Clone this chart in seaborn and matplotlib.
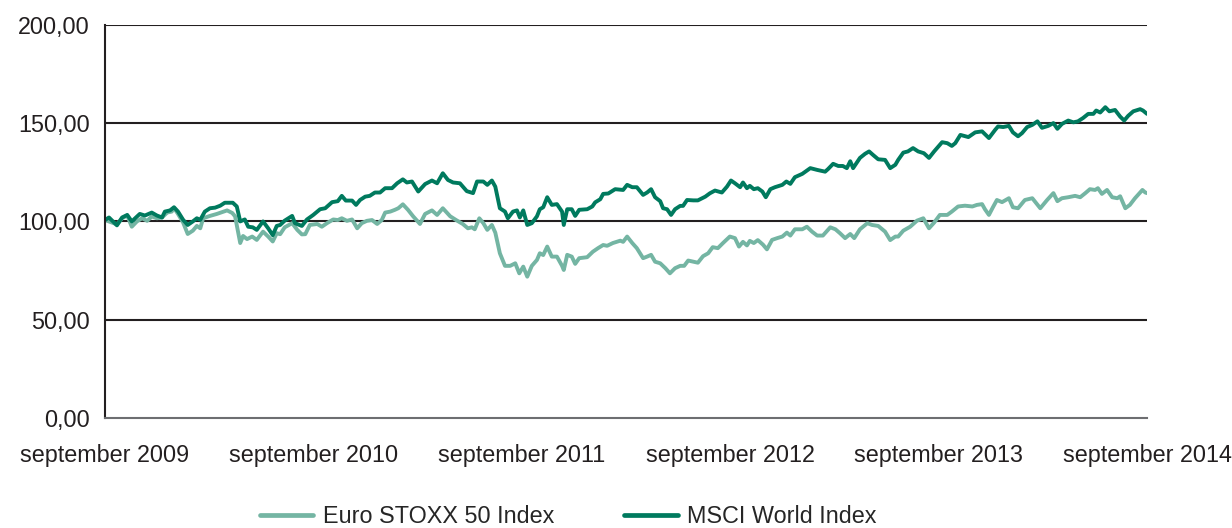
import pandas as pd
import numpy as np
import matplotlib
matplotlib.use('Agg')
import matplotlib.pyplot as plt
import matplotlib.ticker as mticker
import seaborn as sns

# days since 1 september 2009
msci_days = [0, 7, 21, 30, 39, 47, 61, 70, 82, 91, 100, 105, 114, 121, 128, 137, 145, 154, 161, 167,
             175, 184, 193, 202, 210, 224, 231, 237, 245, 251, 259, 266, 277, 286, 294, 301, 307, 315, 328, 333,
             345, 354, 365, 377, 386, 398, 408, 415, 422, 433, 440, 447, 456, 464, 473, 482, 491, 503, 512, 522,
             529, 538, 549, 561, 573, 582, 592, 601, 610, 622, 634, 645, 652, 663, 670, 678, 684, 692, 701, 706,
             715, 722, 727, 733, 740, 748, 757, 762, 768, 775, 783, 792, 801, 804, 810, 818, 824, 831, 845, 854,
             859, 868, 873, 882, 894, 908, 915, 924, 932, 943, 950, 957, 964, 973, 978, 985, 992, 999, 1008, 1013,
             1020, 1031, 1039, 1052, 1060, 1069, 1081, 1090, 1097, 1104, 1113, 1118, 1125, 1130, 1137, 1144, 1152, 1158, 1166, 1174,
             1187, 1194, 1201, 1209, 1222, 1236, 1248, 1262, 1267, 1276, 1285, 1293, 1300, 1306, 1311, 1323, 1332, 1339, 1346, 1355,
             1367, 1376, 1385, 1390, 1399, 1407, 1416, 1425, 1435, 1444, 1453, 1467, 1476, 1484, 1490, 1499, 1513, 1525, 1537, 1549,
             1560, 1565, 1574, 1584, 1591, 1600, 1607, 1616, 1625, 1634, 1642, 1653, 1662, 1669, 1677, 1688, 1697, 1705, 1714, 1723,
             1732, 1737, 1744, 1753, 1760, 1770, 1779, 1786, 1793, 1802, 1814, 1819, 1826]
msci_values = [100.7, 102, 98, 102, 103.3, 100, 103.8, 103, 104.5, 103, 102, 105, 105.6, 107.2, 105, 100.8, 98.2, 100, 101.6, 100.8,
               105, 106.7, 107, 108, 109.5, 109.5, 107.6, 100, 101, 97.3, 97, 95.7, 100, 96.5, 93, 97.7, 98.2, 100.4, 102.8, 99.1,
               97.7, 101, 103.3, 106.2, 106.7, 109.8, 110.3, 113, 110.6, 110.6, 108.4, 110.9, 112.6, 113, 114.7, 114.7, 116.9, 116.9, 119.4, 121.4,
               119.8, 120.3, 115.2, 119, 120.8, 119.4, 124.5, 121.1, 119.8, 119.4, 115.4, 114.4, 120.3, 120.3, 118.6, 120.8, 117.7, 106.7, 105, 101.6,
               105, 105.6, 102, 105.6, 98.2, 99.1, 102.6, 106.2, 107.2, 112.3, 108.4, 108.8, 105, 98.2, 106.2, 106.2, 102.8, 105.9, 106.2, 107.6,
               109.7, 111.3, 114, 114.2, 116.4, 116, 118.6, 117.4, 117.4, 113.5, 114.7, 116.4, 112.3, 110.3, 106.7, 106.2, 103.3, 106.2, 107.9, 107.9,
               110.9, 110.7, 110.7, 112.6, 114.3, 115.7, 114.7, 117.7, 120.8, 119.4, 117.4, 119.8, 116.9, 118.1, 116.4, 116.9, 115.2, 112.3, 116.4, 117.4,
               118.6, 120.3, 119.1, 122.5, 124.2, 127.1, 126.2, 125.3, 126.6, 129.3, 128.2, 128.2, 127.1, 130.6, 127.1, 132.3, 134.4, 135.6, 133.8, 131.6,
               131.3, 127.1, 128.8, 131.3, 135, 135.6, 137.3, 135.6, 134.7, 132.3, 135.6, 140.3, 139.8, 138.4, 139.8, 144, 142.9, 145.3, 145.8, 142.4,
               146.6, 148.3, 148, 148.6, 145.3, 143.3, 144.9, 148, 149.1, 150.9, 147.6, 148.6, 150, 147.1, 149.6, 151.3, 150.4, 150.9, 152.6, 154.7,
               154.7, 156.4, 155.4, 158.1, 156, 156.7, 153.3, 151.3, 153.7, 156, 157.1, 156.4, 154.7]

euro_days = [0, 21, 30, 39, 47, 56, 65, 74, 82, 91, 100, 109, 117, 121, 128, 137, 145, 154, 161, 167,
             172, 184, 196, 214, 223, 228, 237, 242, 249, 258, 266, 277, 286, 294, 301, 307, 315, 328, 337, 345,
             351, 359, 372, 380, 389, 400, 408, 415, 424, 433, 442, 450, 459, 468, 477, 485, 491, 500, 508, 514,
             522, 531, 540, 552, 561, 573, 582, 592, 605, 617, 627, 636, 643, 648, 656, 663, 670, 678, 684, 692,
             701, 710, 719, 726, 733, 740, 748, 757, 762, 768, 775, 783, 792, 801, 804, 810, 818, 824, 831, 845,
             855, 864, 873, 880, 890, 903, 908, 915, 924, 932, 943, 950, 957, 964, 973, 982, 990, 999, 1008, 1015,
             1022, 1031, 1039, 1048, 1057, 1065, 1074, 1083, 1095, 1104, 1111, 1118, 1125, 1130, 1137, 1144, 1153, 1160, 1169, 1178,
             1187, 1195, 1201, 1209, 1222, 1230, 1239, 1248, 1258, 1271, 1280, 1288, 1297, 1306, 1313, 1323, 1336, 1344, 1355, 1367,
             1376, 1385, 1390, 1399, 1411, 1423, 1434, 1444, 1453, 1463, 1476, 1484, 1495, 1507, 1520, 1528, 1537, 1542, 1549, 1556,
             1563, 1572, 1584, 1591, 1600, 1612, 1625, 1639, 1651, 1662, 1669, 1677, 1688, 1700, 1709, 1718, 1726, 1735, 1740, 1747,
             1756, 1765, 1774, 1779, 1788, 1796, 1805, 1818, 1823, 1826]
euro_values = [100.7, 98.5, 101.6, 103, 97.3, 100, 101.6, 100.3, 102.5, 101.6, 102, 104.5, 105, 106.8, 103.8, 99.4, 93.6, 95.3, 97.7, 96.5,
               101.6, 102.8, 103.8, 105.6, 104.3, 102.6, 89, 92.6, 91, 92.3, 90.6, 94.8, 92.3, 89.8, 94, 93.5, 97, 99.1, 95.7, 93.4,
               93.5, 98.2, 98.7, 97.3, 99.1, 101, 100.7, 101.6, 100.3, 101, 96.5, 99.1, 100.3, 100.7, 98.7, 100.7, 104.5, 105, 105.9, 106.7,
               108.7, 105.9, 102.6, 98.7, 103.8, 105.6, 103.3, 106.7, 102.6, 100.4, 98.7, 96.5, 97, 96, 101.6, 99.1, 95.7, 98.2, 94.3, 83.8,
               77.4, 77.4, 78.7, 73.6, 77, 71.9, 77.4, 80.4, 83.8, 82.9, 87.2, 82.1, 82.1, 77.4, 75.3, 83, 82.1, 78.4, 81.3, 81.8,
               84.6, 86.4, 88, 87.6, 89, 90.2, 89.6, 92.3, 89, 86.4, 81.3, 82.1, 83, 79.5, 78.7, 76.2, 73.6, 76.2, 77.4, 77.4,
               80.1, 79.5, 79, 82.3, 83.8, 86.9, 86.4, 89, 92.3, 91.5, 87.2, 89.6, 87.8, 90.1, 89, 90.5, 88.2, 85.8, 90.6, 91.5,
               92.3, 94.3, 92.8, 96, 96, 97.3, 94.8, 92.8, 92.8, 97, 96, 94, 91.5, 93.6, 91.5, 96, 99.1, 98.2, 97.7, 94.8,
               90.5, 92.3, 92.3, 95.3, 97.3, 100.4, 101.6, 96.5, 99.4, 103.3, 103.3, 105, 107.6, 108, 107.6, 108.4, 108.8, 106.2, 103.3, 107.2,
               110.9, 109.8, 111.8, 107.2, 106.7, 110.9, 111.8, 106.7, 110.9, 114.4, 110.3, 111.8, 112.3, 113, 112.3, 114.4, 116.4, 116, 116.9, 114,
               116, 112.3, 111.8, 112.8, 106.7, 108.4, 111.8, 116, 114.7, 114.4]

series_names = ['Euro STOXX 50 Index', 'MSCI World Index']
series_colors = ['#74b5a3', '#007a5e']
tick_years = [2009, 2010, 2011, 2012, 2013, 2014]
y_ticks = [0, 50, 100, 150, 200]

start = pd.Timestamp('2009-09-01')

df = pd.concat([
    pd.DataFrame({'date': start + pd.to_timedelta(euro_days, unit='D'),
                  'value': euro_values, 'index': series_names[0]}),
    pd.DataFrame({'date': start + pd.to_timedelta(msci_days, unit='D'),
                  'value': msci_values, 'index': series_names[1]}),
])

sns.set_style('white')
plt.rcParams['font.family'] = ['Liberation Sans', 'DejaVu Sans']

fig, ax = plt.subplots(figsize=(12.32, 5.28), dpi=100)
fig.subplots_adjust(left=0.0852, right=0.931, top=0.953, bottom=0.2083)

sns.lineplot(data=df, x='date', y='value', hue='index', hue_order=series_names,
             palette=dict(zip(series_names, series_colors)), estimator=None,
             linewidth=2.8, ax=ax)

# horizontal rules
for v in y_ticks[1:]:
    ax.axhline(v, color='#231f20', linewidth=1.5, zorder=0)

ax.set_ylim(0, 200)
ax.set_xlim(start, pd.Timestamp('2014-09-01'))
ax.set_yticks(y_ticks)
ax.yaxis.set_major_formatter(mticker.FuncFormatter(lambda v, p: f'{v:.2f}'.replace('.', ',')))
xt = [pd.Timestamp(f'{y}-09-01') for y in tick_years]
ax.set_xticks(xt)
ax.set_xticklabels([f'september {y}' for y in tick_years])
ax.set_xlabel('')
ax.set_ylabel('')

for s in ['top', 'right']:
    ax.spines[s].set_visible(False)
ax.spines['left'].set_color('#231f20')
ax.spines['left'].set_linewidth(1.5)
ax.spines['bottom'].set_color('#6d6e71')
ax.spines['bottom'].set_linewidth(1.5)

ax.tick_params(axis='both', direction='out', length=5, width=1.2, labelsize=16.8,
               colors='#231f20')
ax.tick_params(axis='x', pad=14, color='#6d6e71')
ax.tick_params(axis='y', pad=6)

ax.legend_.remove()
handles, labels = ax.get_legend_handles_labels()
leg = fig.legend(handles, labels, loc='center', bbox_to_anchor=(0.461, 0.021), ncol=2,
                 frameon=False, fontsize=16.8, handlelength=2.3, handletextpad=0.4,
                 columnspacing=3.0)
for line in leg.get_lines():
    line.set_linewidth(3.4)

fig.savefig('out.png', dpi=100)
